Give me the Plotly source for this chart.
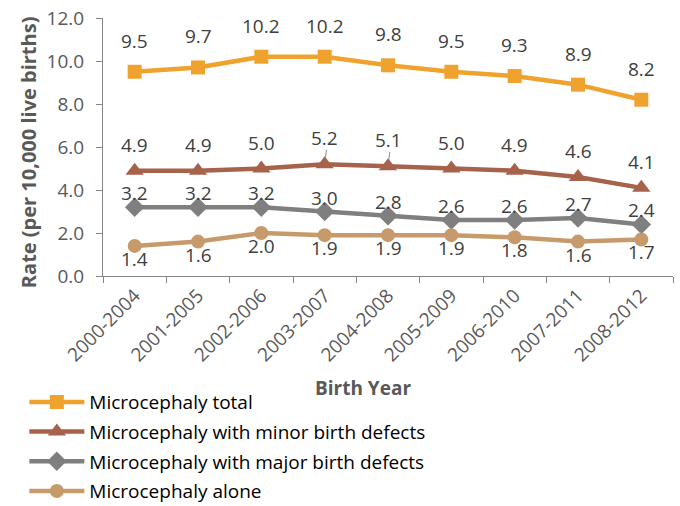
import plotly.graph_objects as go

categories = ["2000-2004", "2001-2005", "2002-2006", "2003-2007", "2004-2008",
              "2005-2009", "2006-2010", "2007-2011", "2008-2012"]
total = [9.5, 9.7, 10.2, 10.2, 9.8, 9.5, 9.3, 8.9, 8.2]
minor = [4.9, 4.9, 5.0, 5.2, 5.1, 5.0, 4.9, 4.6, 4.1]
major = [3.2, 3.2, 3.2, 3.0, 2.8, 2.6, 2.6, 2.7, 2.4]
alone = [1.4, 1.6, 2.0, 1.9, 1.9, 1.9, 1.8, 1.6, 1.7]
y_ticks = [0, 2, 4, 6, 8, 10, 12]

FONT = "Open Sans"
series = [
    ("Microcephaly total", total, "#F0A22E", "square", 14, 31),
    ("Microcephaly with minor birth defects", minor, "#A7624B", "triangle-up", 16, 26),
    ("Microcephaly with major birth defects", major, "#7F7F7F", "diamond", 15, 14),
    ("Microcephaly alone", alone, "#C79A6C", "circle", 14, -13),
]

fig = go.Figure()
annotations = []
for i, (name, vals, color, sym, msize, shift) in enumerate(series):
    fig.add_trace(go.Scatter(
        x=categories, y=vals, name=name, mode="lines+markers",
        line=dict(color=color, width=4.5),
        marker=dict(symbol=sym, size=msize, color=color),
        legendgroup=str(i),
    ))
    for c, v in zip(categories, vals):
        annotations.append(dict(
            x=c, y=v, text=f"{v:.1f}", showarrow=False, yshift=shift,
            font=dict(family=FONT, size=19, color="#404040"),
        ))

# small leader lines (as in the original) for two minor-defect labels
for idx in (3, 4):
    annotations.append(dict(
        x=categories[idx], y=minor[idx], text="", showarrow=True,
        arrowhead=0, arrowwidth=1, arrowcolor="#8C8C8C",
        ax=2, ay=-16, standoff=6,
    ))

annotations.append(dict(
    xref="paper", yref="paper", x=0.456, y=-0.434, text="<b>Birth Year</b>",
    showarrow=False, xanchor="center", yanchor="middle",
    font=dict(family=FONT, size=19, color="#595959"),
))
annotations.append(dict(
    xref="paper", yref="paper", x=-0.1316, y=0.48,
    text="<b>Rate (per 10,000 live births)</b>", textangle=-90,
    showarrow=False, xanchor="center", yanchor="middle",
    font=dict(family=FONT, size=20, color="#595959"),
))

fig.update_layout(
    template="none",
    width=680, height=506,
    margin=dict(l=103, r=7, t=18, b=230, autoexpand=False),
    paper_bgcolor="white", plot_bgcolor="white",
    font=dict(family=FONT, color="#595959"),
    annotations=annotations,
    showlegend=True,
    legend=dict(
        x=-0.138, y=-0.415, xanchor="left", yanchor="top",
        font=dict(family=FONT, size=19, color="#000000"),
        itemwidth=55, tracegroupgap=2,
        bgcolor="rgba(0,0,0,0)",
    ),
    xaxis=dict(
        type="category", tickson="boundaries", ticks="outside", ticklen=6,
        tickcolor="#868686", showline=True, linecolor="#868686", linewidth=1,
        tickangle=-45, tickfont=dict(family=FONT, size=19, color="#595959"),
        showgrid=False, range=[-0.5, 8.5], automargin=False,
        ticklabeloverflow="allow",
    ),
    yaxis=dict(
        range=[0, 12], tickvals=y_ticks, ticktext=[f"{t:.1f}" for t in y_ticks],
        ticks="outside", ticklen=6, tickcolor="#868686", showline=True,
        linecolor="#868686", linewidth=1, showgrid=False, zeroline=False,
        ticklabelstandoff=8, automargin=False, ticklabeloverflow="allow",
        tickfont=dict(family=FONT, size=19, color="#595959"),
    ),
)

# remove the default 8px page margin so the figure fills the window exactly
fig.write_html("out.html", config={"displayModeBar": False},
               post_script="document.body.style.margin='0';")
